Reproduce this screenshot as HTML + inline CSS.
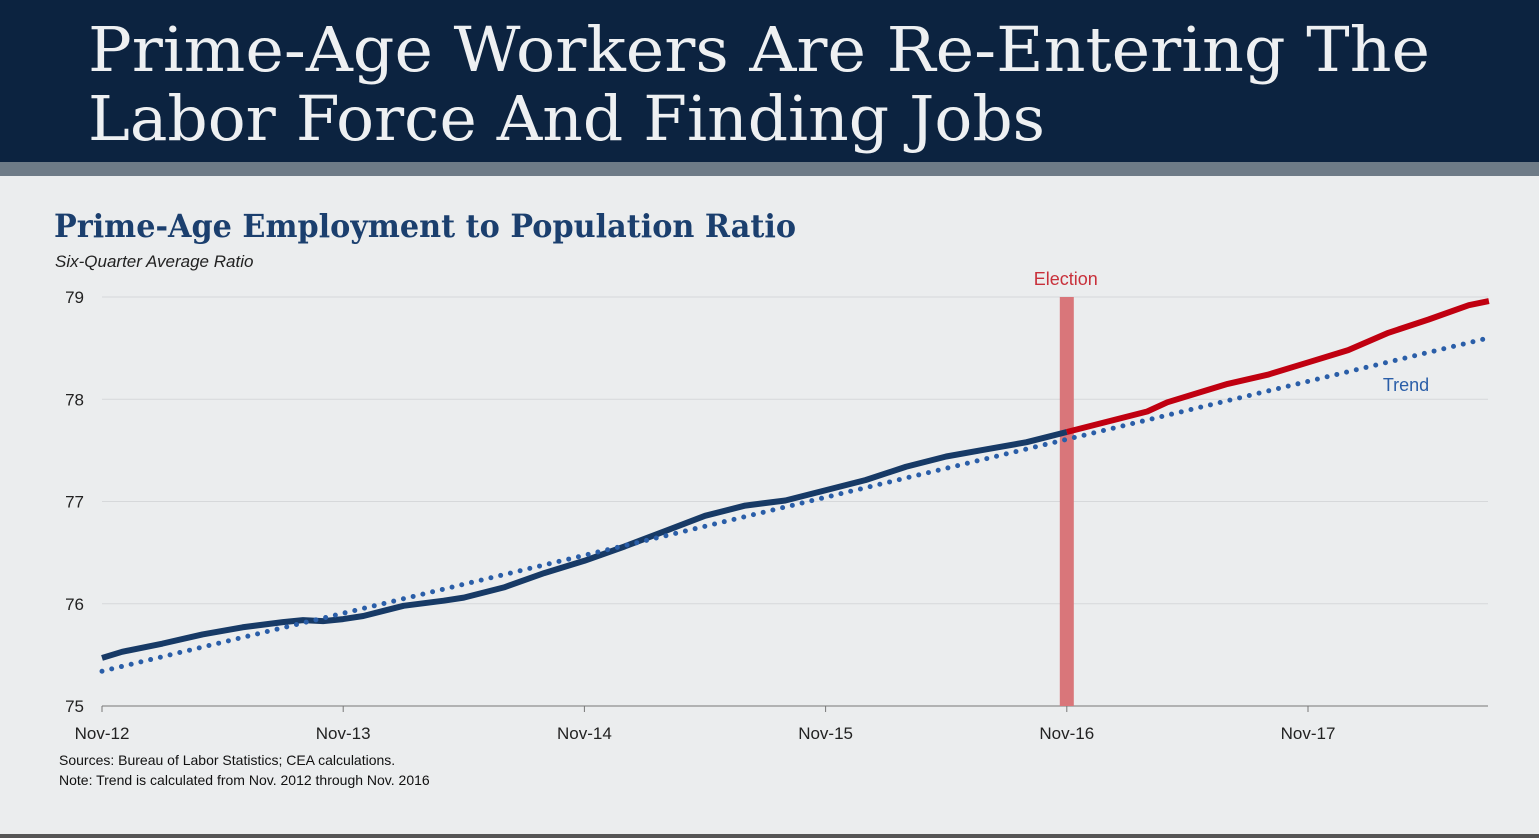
<!DOCTYPE html>
<html><head><meta charset="utf-8"><style>
html,body{margin:0;padding:0;background:#ebedee;}
svg{display:block;}
</style></head><body>
<svg id="c" width="1539" height="838" viewBox="0 0 1539 838" xmlns="http://www.w3.org/2000/svg">
<rect x="0" y="0" width="1539" height="838" fill="#ebedee"/>
<rect x="0" y="0" width="1539" height="162" fill="#0c2340"/>
<rect x="0" y="162" width="1539" height="14" fill="#6e7b87"/>
<rect x="0" y="834" width="1539" height="4" fill="#555"/>
<text x="88" y="71" font-family="'DejaVu Serif','Liberation Serif',serif" font-size="62" fill="#eef0f2" textLength="1342" lengthAdjust="spacingAndGlyphs">Prime-Age Workers Are Re-Entering The</text>
<text x="88" y="140" font-family="'DejaVu Serif','Liberation Serif',serif" font-size="62" fill="#eef0f2" textLength="957" lengthAdjust="spacingAndGlyphs">Labor Force And Finding Jobs</text>
<text x="54" y="237" font-family="'DejaVu Serif','Liberation Serif',serif" font-weight="bold" font-size="32" fill="#1b3f6e" textLength="742" lengthAdjust="spacingAndGlyphs">Prime-Age Employment to Population Ratio</text>
<text x="55" y="267" font-family="'Liberation Sans',sans-serif" font-style="italic" font-size="17" fill="#222">Six-Quarter Average Ratio</text>
<g id="grid"></g>
<g id="marks"></g>
<text x="59" y="765" font-family="'Liberation Sans',sans-serif" font-size="14" fill="#111">Sources: Bureau of Labor Statistics; CEA calculations.</text>
<text x="59" y="785" font-family="'Liberation Sans',sans-serif" font-size="14" fill="#111">Note: Trend is calculated from Nov. 2012 through Nov. 2016</text>
</svg>
<script>
const monthIdx=[0,1,3,5,7,9,10,11,12,13,15,17,18,20,22,24,26,28,30,32,34,36,38,40,42,44,46,48,50,52,53,55,56,58,60,62,64,66,68,69];
const ratio=[75.47,75.53,75.61,75.70,75.77,75.82,75.84,75.83,75.85,75.88,75.98,76.03,76.06,76.16,76.30,76.42,76.56,76.71,76.86,76.96,77.01,77.11,77.21,77.34,77.44,77.51,77.58,77.68,77.78,77.88,77.97,78.09,78.15,78.24,78.36,78.48,78.65,78.78,78.92,78.96];
const trendIdx=[0,69];
const trendVal=[75.34,78.60];
const electionIdx=48;
const yTicks=[75,76,77,78,79];
const xTickIdx=[0,12,24,36,48,60];
const xTickLabels=["Nov-12","Nov-13","Nov-14","Nov-15","Nov-16","Nov-17"];
const NS="http://www.w3.org/2000/svg";
const X=m=>102+m*20.1, Y=v=>706-(v-75)*102.25;
function mk(t,a,p){const e=document.createElementNS(NS,t);for(const k in a)e.setAttribute(k,a[k]);p.appendChild(e);return e;}
const g=document.getElementById('grid'), mg=document.getElementById('marks');
yTicks.forEach(v=>{
  if(v>75){const l=mk('line',{x1:102,x2:1488,y1:Y(v),y2:Y(v),stroke:'#d6d8da','stroke-width':1},g);
  
  }
  const t=mk('text',{x:84,y:Y(v)+6,'text-anchor':'end','font-family':"'Liberation Sans',sans-serif",'font-size':17,fill:'#222'},g);
  t.textContent=v;
  
  
});
const ax=mk('line',{x1:102,x2:1488,y1:706,y2:706,stroke:'#777','stroke-width':1},g);


xTickIdx.forEach((m,i)=>{
  const tk=mk('line',{x1:X(m),x2:X(m),y1:706,y2:712,stroke:'#777'},g);
  
  
  const t=mk('text',{x:X(m),y:739,'text-anchor':'middle','font-family':"'Liberation Sans',sans-serif",'font-size':17,fill:'#222'},g);
  t.textContent=xTickLabels[i];
  
  
});
const er=mk('rect',{x:X(electionIdx)-7,y:297,width:14,height:409,fill:'#d9767a'},mg);


const et=mk('text',{x:X(electionIdx)-1,y:285,'text-anchor':'middle','font-family':"'Liberation Sans',sans-serif",'font-size':18,fill:'#c8303a'},mg);
et.textContent='Election';


const pre=[],post=[];
monthIdx.forEach((m,i)=>{const p=X(m)+','+Y(ratio[i]);if(m<=electionIdx)pre.push(p);if(m>=electionIdx)post.push(p);});
const l1=mk('polyline',{points:pre.join(' '),fill:'none',stroke:'#173a66','stroke-width':6,'stroke-linejoin':'round'},mg);


const l2=mk('polyline',{points:post.join(' '),fill:'none',stroke:'#c00010','stroke-width':6,'stroke-linejoin':'round'},mg);


const tl=mk('line',{x1:X(trendIdx[0]),y1:Y(trendVal[0]),x2:X(trendIdx[1]),y2:Y(trendVal[1]),stroke:'#2a5ea8','stroke-width':5,'stroke-linecap':'round','stroke-dasharray':'0 10'},mg);


const tt=mk('text',{x:1406,y:391,'text-anchor':'middle','font-family':"'Liberation Sans',sans-serif",'font-size':18,fill:'#2a5ea8'},mg);
tt.textContent='Trend';


</script>
</body></html>
